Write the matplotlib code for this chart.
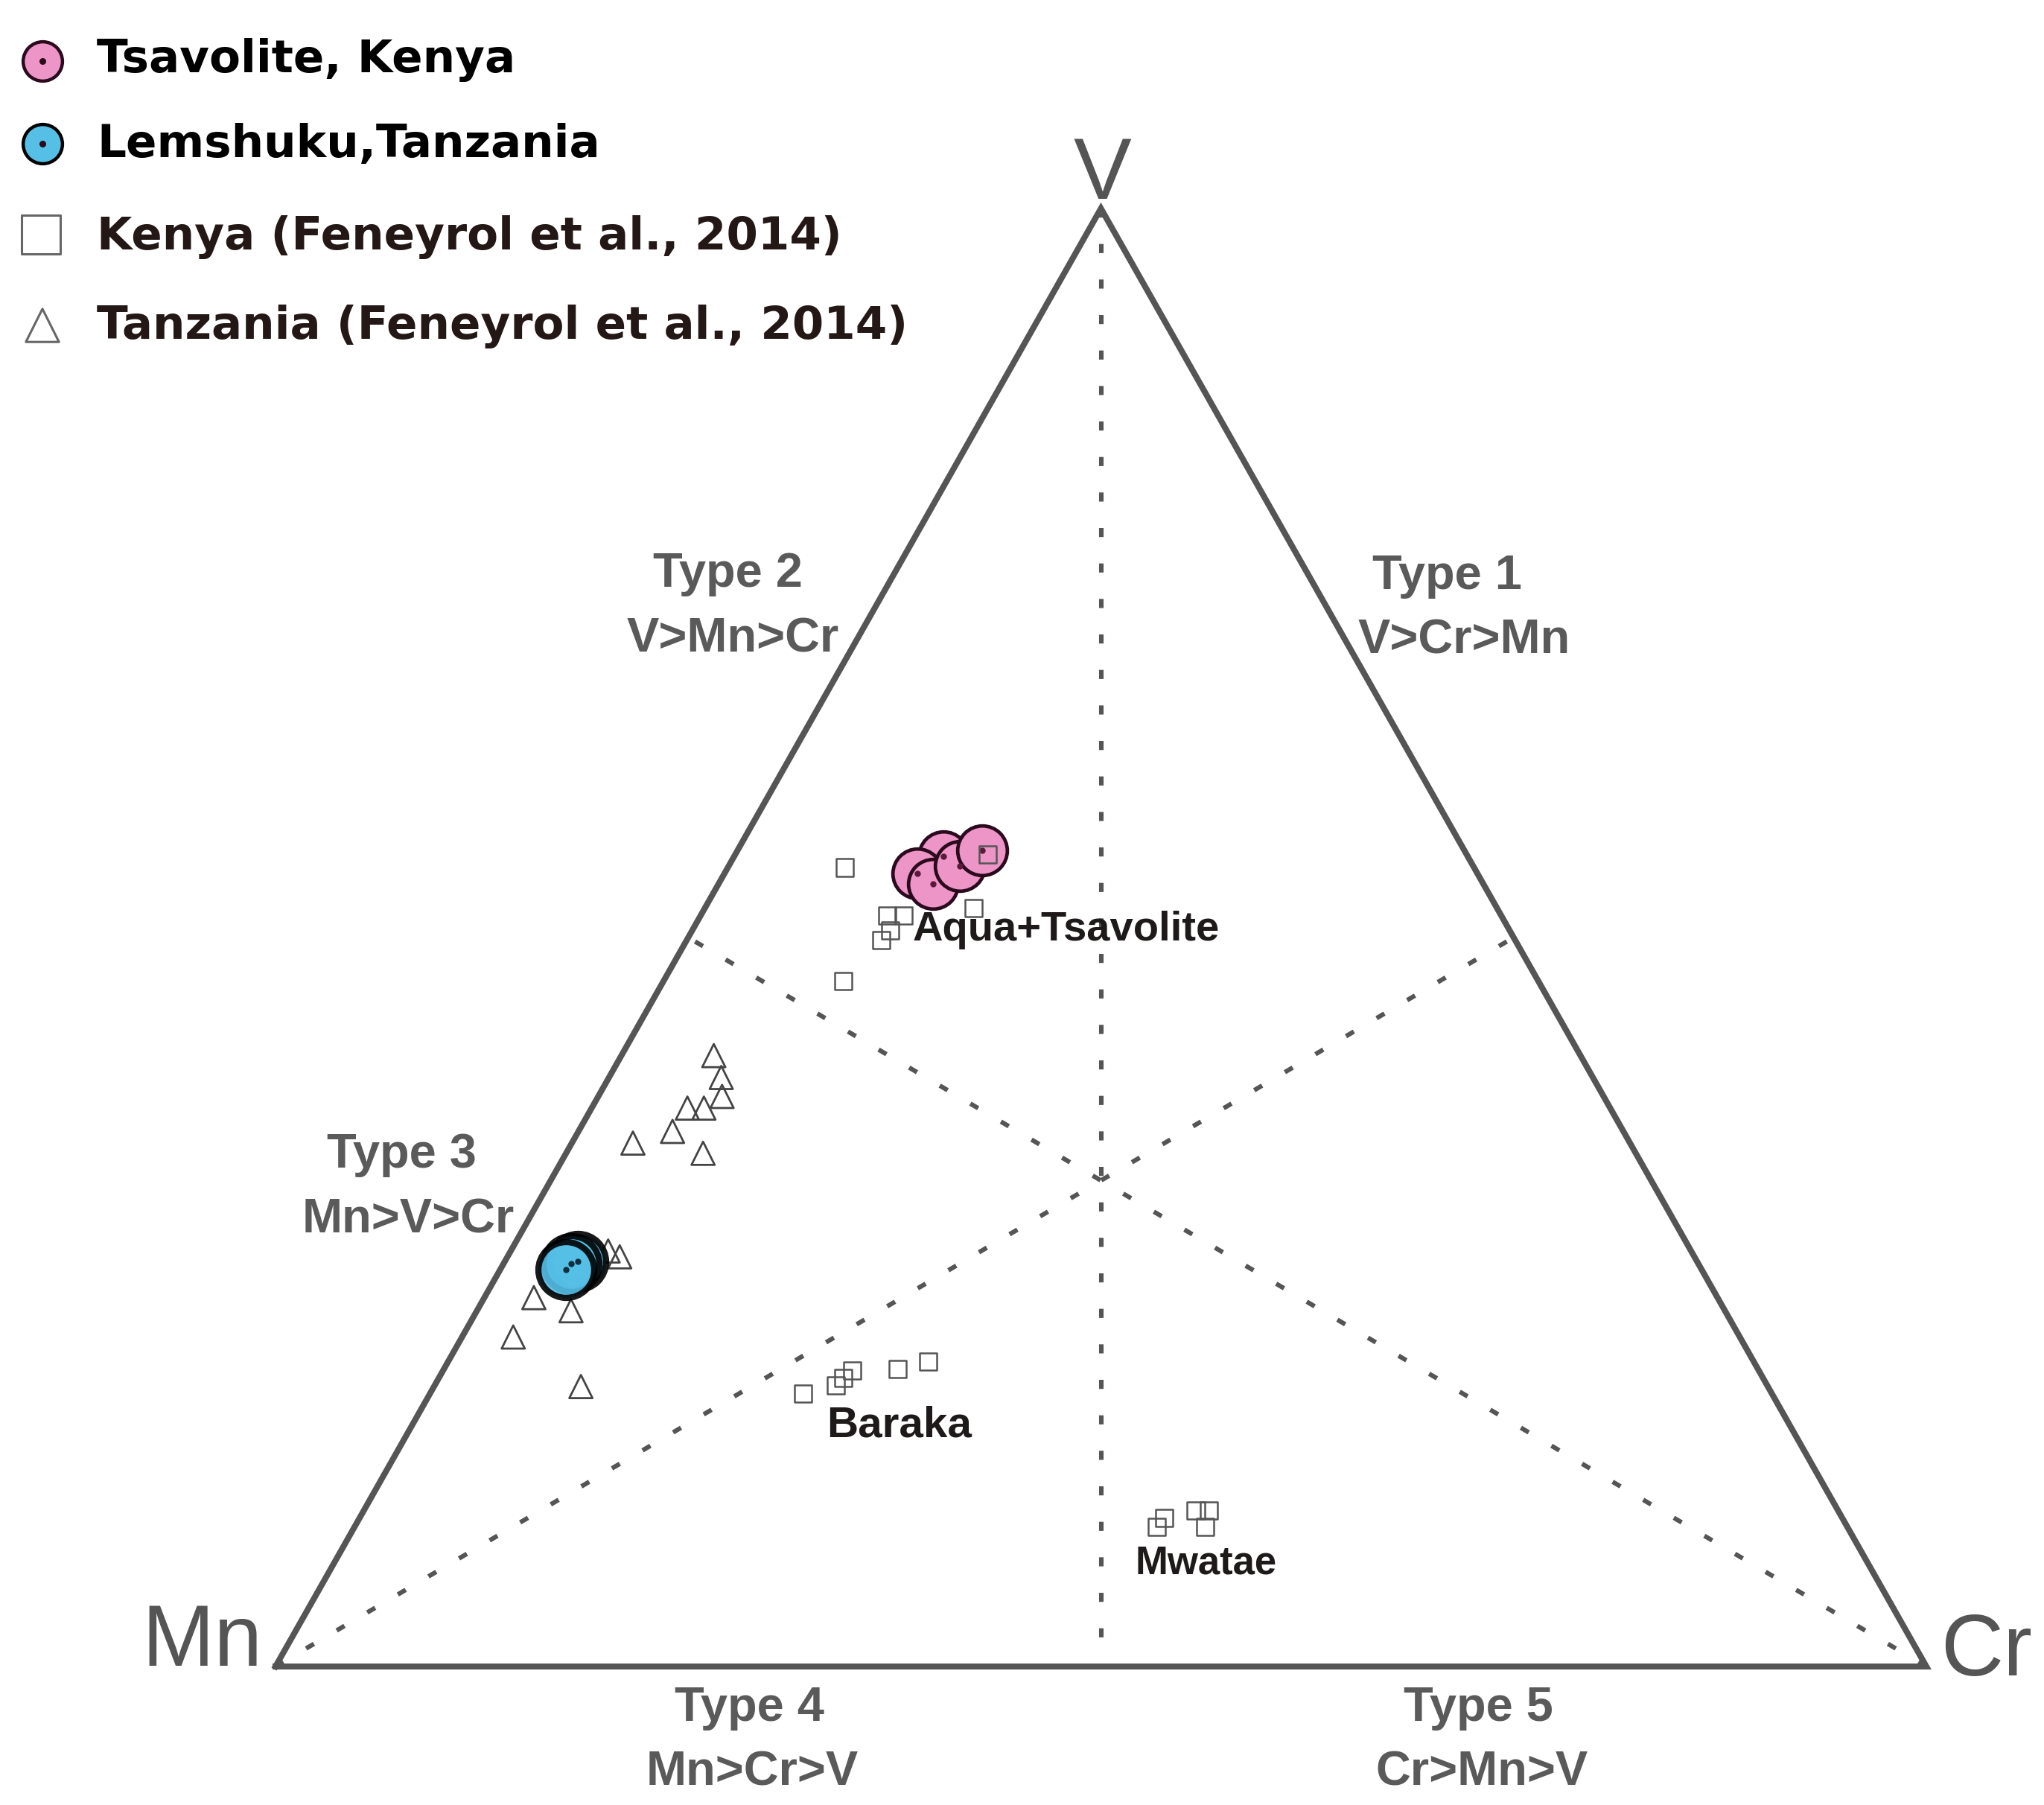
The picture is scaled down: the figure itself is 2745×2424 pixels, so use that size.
import matplotlib
matplotlib.use("Agg")
import matplotlib.pyplot as plt
import numpy as np

# compositions in % : V, Mn, Cr
tsav_V = [55.6, 54.4, 53.7, 54.9, 56.0]
tsav_Mn = [31.8, 33.9, 33.3, 31.1, 29.2]
tsav_Cr = [12.7, 11.7, 13.0, 14.0, 14.8]

lem_V = [27.8, 27.6, 27.2]
lem_Mn = [67.8, 68.2, 68.8]
lem_Cr = [4.4, 4.1, 4.0]

# Feneyrol et al. 2014, Kenya (Aqua+Tsavolite, Baraka, Mwatae)
kenya_V = [54.8, 47.0, 52.0, 51.5, 51.5, 50.5, 49.8, 55.7,
           18.7, 19.3, 19.8, 20.3, 20.4, 20.9,
           9.6, 10.2, 10.7, 10.7, 9.6]
kenya_Mn = [38.1, 42.1, 31.7, 37.2, 36.2, 37.5, 38.4, 29.0,
            58.7, 56.4, 55.7, 54.9, 52.1, 50.0,
            41.8, 41.1, 38.9, 38.1, 38.9]
kenya_Cr = [7.1, 10.9, 16.3, 11.3, 12.3, 12.0, 11.8, 15.3,
            22.6, 24.3, 24.5, 24.8, 27.5, 29.1,
            48.6, 48.8, 50.4, 51.2, 51.5]

# Feneyrol et al. 2014, Tanzania
tanz_V = [41.9, 40.4, 39.1, 38.3, 38.3, 36.7, 35.9, 35.2,
          28.5, 28.1, 25.3, 24.4, 22.6, 19.2, 27.5, 27.4]
tanz_Mn = [52.5, 52.8, 53.4, 55.9, 54.9, 57.6, 60.4, 56.5,
           65.6, 65.1, 71.7, 69.9, 74.3, 71.9, 69.2, 68.0]
tanz_Cr = [5.6, 6.8, 7.5, 5.8, 6.8, 5.7, 3.7, 8.3,
           5.9, 6.8, 3.0, 5.7, 3.1, 8.9, 3.3, 4.6]

legend_labels = ["Tsavolite, Kenya", "Lemshuku,Tanzania",
                 "Kenya (Feneyrol et al., 2014)", "Tanzania (Feneyrol et al., 2014)"]
type_titles = ["Type 1", "Type 2", "Type 3", "Type 4", "Type 5"]
type_rules = ["V>Cr>Mn", "V>Mn>Cr", "Mn>V>Cr", "Mn>Cr>V", "Cr>Mn>V"]
group_labels = ["Aqua+Tsavolite", "Baraka", "Mwatae"]

PINK = "#ee95c8"
BLUE = "#55bfe6"
GREY = "#555555"
W, H = 2745, 2424


def tern(V, Mn, Cr):
    V = np.asarray(V, float)
    Mn = np.asarray(Mn, float)
    Cr = np.asarray(Cr, float)
    t = V + Mn + Cr
    return Cr / t + 0.5 * V / t, V / t


def pos(px, py):
    # pixel position -> axes fraction (axes fills the figure)
    return px / W, 1 - py / H


fig = plt.figure(figsize=(W / 200, H / 200), dpi=200)
ax = fig.add_axes([0, 0, 1, 1])
ax.set_xlim(-370 / 2217, (W - 370) / 2217)
ax.set_ylim(-(H - 2238) / 1958, 2238 / 1958)
ax.axis("off")

# frame
fx, fy = tern([0, 0, 100, 0], [100, 0, 0, 100], [0, 100, 0, 0])
ax.plot(fx, fy, color=GREY, lw=2.9, solid_joinstyle="miter", zorder=2)

# medians
for a, b in [((100, 0, 0), (0, 50, 50)), ((0, 100, 0), (50, 0, 50)), ((0, 0, 100), (50, 50, 0))]:
    mx, my = tern([a[0], b[0]], [a[1], b[1]], [a[2], b[2]])
    ax.plot(mx, my, color=GREY, lw=2.2, ls=(0, (2.0, 5.8)), zorder=1)

# data
tx, ty = tern(tanz_V, tanz_Mn, tanz_Cr)
ax.scatter(tx, ty, marker="^", s=11.2 ** 2, facecolor="none", edgecolor="#444444", lw=1.0, zorder=3)

lx, ly = tern(lem_V, lem_Mn, lem_Cr)
ax.scatter(lx, ly, s=27 ** 2, facecolor=BLUE, edgecolor="black", lw=3.0, alpha=0.9, zorder=4)
ax.scatter(lx, ly, s=4, color="#10303f", zorder=4)

sx, sy = tern(tsav_V, tsav_Mn, tsav_Cr)
ax.scatter(sx, sy, s=24 ** 2, facecolor=PINK, edgecolor="#2a0a1c", lw=1.7, zorder=4)
ax.scatter(sx, sy, s=4, color="#5a1a3a", zorder=4)

kx, ky = tern(kenya_V, kenya_Mn, kenya_Cr)
ax.scatter(kx, ky, marker="s", s=8.3 ** 2, facecolor="none", edgecolor="#555555", lw=0.9, zorder=5)

# vertex labels
vfont = dict(family="Liberation Sans", fontsize=42, color=GREY, va="baseline")
ax.text(*pos(1480, 267), "V", ha="center", transform=ax.transAxes, **vfont)
ax.text(*pos(352, 2237), "Mn", ha="right", transform=ax.transAxes, **vfont)
ax.text(*pos(2606, 2250), "Cr", ha="left", transform=ax.transAxes, **vfont)

# type fields
type_xy = [(1943, 1966, 791), (977, 984, 788), (539, 548, 1568),
           (1007, 1010, 2311), (1985, 1990, 2311)]
tfont = dict(family="Liberation Sans", fontweight="bold", fontsize=23.4, color="#5a5a5a",
             ha="center", va="baseline")
for title, rule, (x1, x2, yb) in zip(type_titles, type_rules, type_xy):
    ax.text(*pos(x1, yb), title, transform=ax.transAxes, **tfont)
    ax.text(*pos(x2, yb + 87), rule, transform=ax.transAxes, **tfont)

# group labels
gfont = dict(family="Liberation Sans", fontweight="bold", color="#1e1a1a", ha="left", va="baseline")
for lab, (px, py, fs) in zip(group_labels, [(1226, 1263, 20.2), (1110, 1930, 21), (1525, 2113, 19)]):
    ax.text(*pos(px, py), lab, fontsize=fs, transform=ax.transAxes, **gfont)

# legend
ly_rows = [82, 193, 315, 437]
base_rows = [97, 211, 335, 455]
lcol = ["black", "black", "#231815", "#231815"]
ax.scatter(*pos(57, ly_rows[0]), s=19 ** 2, facecolor=PINK, edgecolor="#2a0a1c", lw=1.6,
           transform=ax.transAxes, zorder=6)
ax.scatter(*pos(57, ly_rows[1]), s=19 ** 2, facecolor=BLUE, edgecolor="black", lw=1.6,
           transform=ax.transAxes, zorder=6)
for r in ly_rows[:2]:
    ax.scatter(*pos(57, r), s=5, color="#2a0a1c", transform=ax.transAxes, zorder=7)
ax.scatter(*pos(55, ly_rows[2]), marker="s", s=19 ** 2, facecolor="none", edgecolor="#666666",
           lw=1.1, transform=ax.transAxes, zorder=6)
ax.scatter(*pos(57, ly_rows[3]), marker="^", s=16 ** 2, facecolor="none", edgecolor="#666666",
           lw=1.1, transform=ax.transAxes, zorder=6)
for lab, yb, c in zip(legend_labels, base_rows, lcol):
    ax.text(*pos(130, yb), lab, family="DejaVu Sans", fontweight="bold", fontsize=22, color=c,
            ha="left", va="baseline", transform=ax.transAxes)

fig.savefig("out.png", dpi=200, facecolor="white")
